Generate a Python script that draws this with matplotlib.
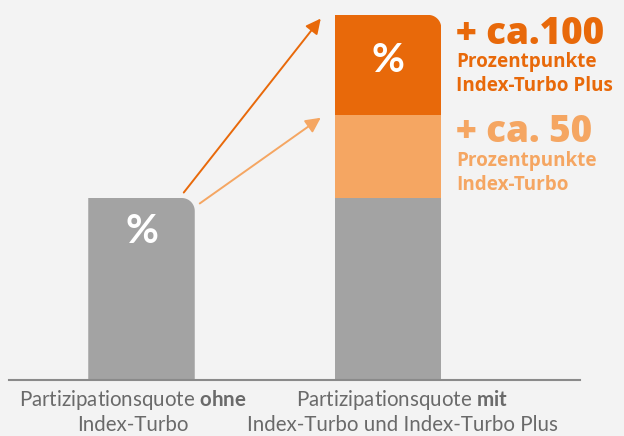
import matplotlib
matplotlib.use('Agg')
import matplotlib.pyplot as plt
import numpy as np
from matplotlib.path import Path
import matplotlib.transforms as mtransforms

# ---- data ----
categories = ['ohne', 'mit']
base_values = [100, 100]          # Partizipationsquote (gray)
turbo_values = [0, 45.6]          # + ca. 50 Prozentpunkte Index-Turbo
plus_values = [0, 55.0]           # + ca. 100 Prozentpunkte Index-Turbo Plus
bar_labels = ['%', '%']
label_line1 = [('Partizipationsquote ', 'ohne'), ('Partizipationsquote ', 'mit')]
label_line2 = ['Index-Turbo', 'Index-Turbo und Index-Turbo Plus']
plus_title = '+ ca.100'
turbo_title = '+ ca. 50'
plus_sub = ['Prozentpunkte', 'Index-Turbo Plus']
turbo_sub = ['Prozentpunkte', 'Index-Turbo']

# ---- style ----
BG = '#f3f3f3'
GRAY = '#a3a3a3'
DARK = '#e8690a'
LIGHT = '#f5a662'
TXT = '#6a6a6a'
FONT = 'Lato'
HFONT = ['Open Sans', 'DejaVu Sans']
plt.rcParams['font.family'] = [FONT, 'DejaVu Sans']
plt.rcParams['mathtext.fontset'] = 'custom'
plt.rcParams['mathtext.rm'] = FONT
plt.rcParams['mathtext.bf'] = FONT + ':bold'

W, H = 624, 436
fig = plt.figure(figsize=(W / 100, H / 100), dpi=100, facecolor=BG)
base_px = 380
ax = fig.add_axes([0, (H - base_px) / H, 1, base_px / H])
ax.set_facecolor(BG)

px_per_unit_y = 182 / 100.0
ax.set_ylim(0, base_px / px_per_unit_y)
c0, c1 = 141.5, 388.0
pxu = c1 - c0
ax.set_xlim(-c0 / pxu, (W - c0) / pxu)
width = 106.5 / pxu
x = np.arange(len(categories))

b0 = ax.bar(x, base_values, width=width, color=GRAY, linewidth=0)
bottom1 = np.array(base_values, dtype=float)
b1 = ax.bar(x, turbo_values, width=width, bottom=bottom1, color=LIGHT, linewidth=0)
bottom2 = bottom1 + np.array(turbo_values)
b2 = ax.bar(x, plus_values, width=width, bottom=bottom2, color=DARK, linewidth=0)
totals = bottom2 + np.array(plus_values)

for s in ['top', 'left', 'right']:
    ax.spines[s].set_visible(False)
ax.spines['bottom'].set_color('#8a8a8a')
ax.spines['bottom'].set_linewidth(1.5)
ax.spines['bottom'].set_bounds((9 - c0) / pxu, (580 - c0) / pxu)
ax.set_xticks([])
ax.set_yticks([])

# rounded top-right corners via clip paths (display coords)
R = 13
def rounded_path(xl, xr, yb, yt):
    p0 = ax.transData.transform((xl, yb))
    p1 = ax.transData.transform((xr, yt))
    x0, y0 = p0; x1, y1 = p1
    th = np.linspace(0, np.pi / 2, 20)
    arc = np.column_stack([x1 - R + R * np.cos(th), y1 - R + R * np.sin(th)])
    verts = [(x0, y0 - 2), (x1, y0 - 2), (x1, y1 - R)] + [tuple(a) for a in arc] + [(x0, y1), (x0, y0 - 2)]
    return Path(verts, closed=True)

for i in range(len(categories)):
    path = rounded_path(x[i] - width / 2, x[i] + width / 2, 0, totals[i])
    for bars in (b0, b1, b2):
        bars[i].set_clip_path(path, mtransforms.IdentityTransform())

# % labels
ax.text(x[0], base_values[0] - 100 * 33 / 182, bar_labels[0], color='white', fontsize=29,
        fontweight='bold', ha='center', va='center')
ax.text(x[1], totals[1] - 100 * 46 / 182, bar_labels[1], color='white', fontsize=29,
        fontweight='bold', ha='center', va='center')

# arrows
def arrow(xs, ys, xe, ye, col, lw):
    ax.annotate('', xy=(xe, ye), xytext=(xs, ys),
                arrowprops=dict(arrowstyle='-|>,head_length=0.9,head_width=0.45', color=col,
                                lw=lw, shrinkA=0, shrinkB=0))
gap = 14 / pxu
arrow(x[0] + width / 2 - 11 / pxu, base_values[0] + 3, x[1] - width / 2 - gap, totals[1] - 2, DARK, 1.4)
arrow(x[0] + width / 2 + 5 / pxu, base_values[0] - 3, x[1] - width / 2 - gap, bottom2[1] - 1.5, LIGHT, 1.4)

# right-hand annotations (figure pixel positions, from top)
def ftext(xp, yp, s, **kw):
    fig.text(xp / W, 1 - yp / H, s, **kw)

tx = 456
big = dict(fontsize=26.5, fontweight=800, ha='left', va='baseline', family=HFONT)
small = dict(fontsize=13.6, fontweight='bold', ha='left', va='baseline', family=HFONT)
ftext(tx, 43.5, plus_title, color=DARK, **big)
ftext(tx, 67, plus_sub[0], color=DARK, **small)
ftext(tx, 91, plus_sub[1], color=DARK, **small)
ftext(tx, 141.5, turbo_title, color=LIGHT, **big)
ftext(tx, 166, turbo_sub[0], color=LIGHT, **small)
ftext(tx, 190, turbo_sub[1], color=LIGHT, **small)

# bottom category labels
centers = [133, 402]
for i in range(len(categories)):
    reg, bold = label_line1[i]
    ftext(centers[i], 406, reg + r'$\bf{' + bold + '}$', color=TXT, fontsize=14.8, ha='center', va='baseline')
    ftext(centers[i], 431, label_line2[i], color=TXT, fontsize=14.8, ha='center', va='baseline')

fig.savefig('out.png', dpi=100, facecolor=BG)
